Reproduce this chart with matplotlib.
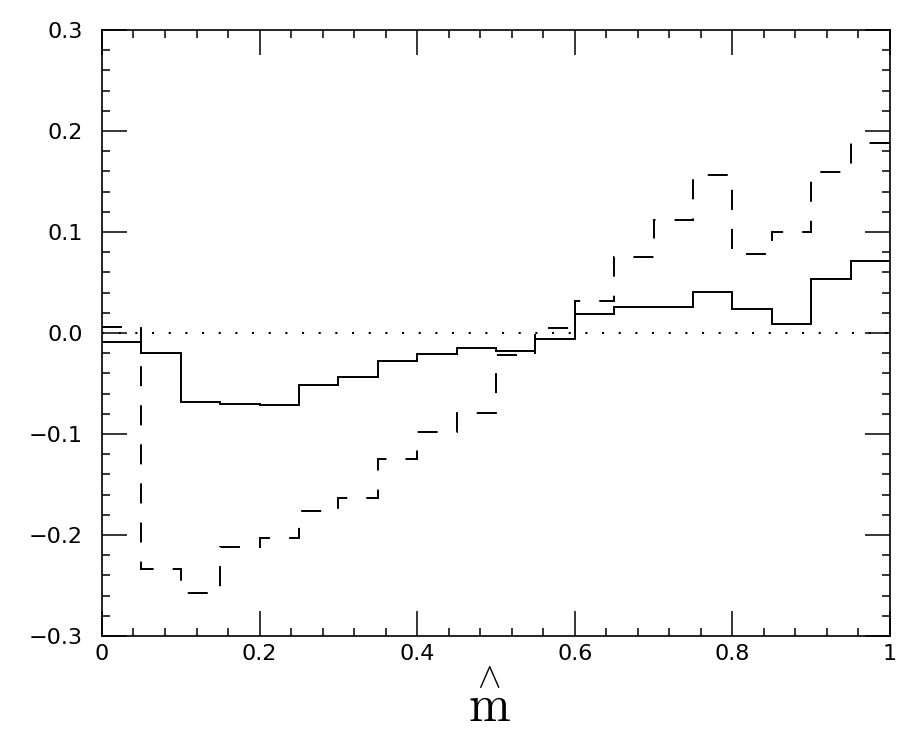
import numpy as np
import matplotlib
matplotlib.use("Agg")
import matplotlib.pyplot as plt

# bin edges in m-hat (20 bins of 0.05)
edges = np.linspace(0.0, 1.0, 21)

# solid histogram
solid_vals = [-0.009, -0.020, -0.068, -0.070, -0.071, -0.051, -0.044, -0.028,
              -0.021, -0.0145, -0.0175, -0.006, 0.019, 0.026, 0.026, 0.041,
              0.0235, 0.009, 0.053, 0.0716]

# dashed histogram
dashed_vals = [0.006, -0.234, -0.257, -0.212, -0.203, -0.176, -0.163, -0.125,
               -0.098, -0.079, -0.022, 0.005, 0.032, 0.075, 0.112, 0.156,
               0.0785, 0.100, 0.159, 0.188]

xticks = [0, 0.2, 0.4, 0.6, 0.8, 1.0]
xticklabels = ["0", "0.2", "0.4", "0.6", "0.8", "1"]
yticks = [-0.3, -0.2, -0.1, 0.0, 0.1, 0.2, 0.3]
yticklabels = ["\u22120.3", "\u22120.2", "\u22120.1", "0.0", "0.1", "0.2", "0.3"]

plt.rcParams['font.family'] = ['DejaVu Sans']

fig = plt.figure(figsize=(9.08, 7.39), dpi=100)
ax = fig.add_axes([0.1123, 0.1394, 0.8679, 0.82])

lw = 1.4
ax.stairs(solid_vals, edges, baseline=None, fill=False, color='black',
          linewidth=lw, joinstyle='miter')
ax.stairs(dashed_vals, edges, baseline=None, fill=False, color='black',
          linewidth=lw, linestyle=(0, (10.3, 9.8)), joinstyle='miter')
ax.axhline(0, color='black', linewidth=1.5, linestyle=(0, (1, 7)))

ax.set_xlim(0, 1)
ax.set_ylim(-0.3, 0.3)

ax.set_xticks(xticks)
ax.set_xticklabels(xticklabels)
ax.set_yticks(yticks)
ax.set_yticklabels(yticklabels)
ax.set_xticks(np.arange(0, 1.001, 0.04), minor=True)
ax.set_yticks(np.arange(-0.3, 0.301, 0.02), minor=True)

ax.tick_params(which='both', direction='in', top=True, right=True,
               width=1.1, colors='black', labelsize=16)
ax.tick_params(which='major', length=18)
ax.tick_params(which='minor', length=6)
ax.tick_params(axis='x', which='major', pad=6)
ax.tick_params(axis='y', which='major', pad=14)

for sp in ax.spines.values():
    sp.set_linewidth(1.2)

# x label: m-hat, one text so the hat sits above the m
fig.text(0.5385, 0.023, r"$\overset{\wedge}{\mathrm{m}}$", math_fontfamily='cm',
         fontsize=36, ha='center', va='baseline')

fig.savefig("out.png", dpi=100)
